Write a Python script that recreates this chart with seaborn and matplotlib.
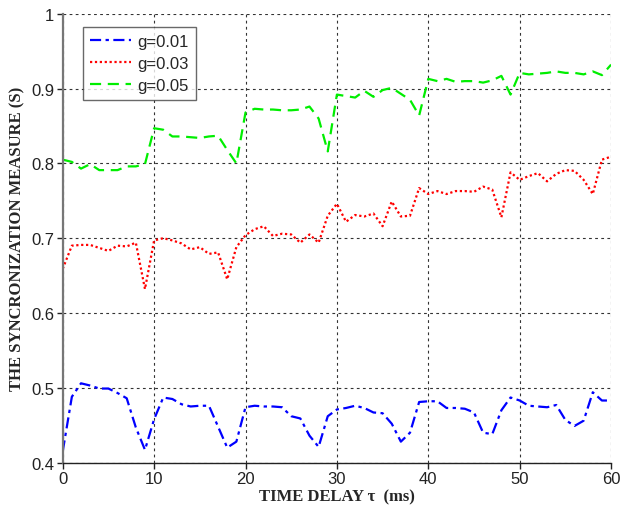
import numpy as np
import pandas as pd
import matplotlib
matplotlib.use("Agg")
import matplotlib.pyplot as plt
import seaborn as sns

# time delay (ms)
tau = list(range(0, 61))

# synchronization measure for each coupling strength
g001 = [0.415, 0.488, 0.506, 0.503, 0.499, 0.499, 0.493, 0.486, 0.447, 0.417,
        0.458, 0.487, 0.485, 0.478, 0.475, 0.476, 0.476, 0.448, 0.420, 0.428,
        0.474, 0.476, 0.475, 0.475, 0.474, 0.462, 0.459, 0.436, 0.421, 0.462,
        0.471, 0.473, 0.476, 0.473, 0.467, 0.466, 0.452, 0.428, 0.440, 0.481,
        0.482, 0.482, 0.473, 0.473, 0.472, 0.467, 0.440, 0.438, 0.470, 0.487,
        0.483, 0.476, 0.475, 0.474, 0.477, 0.457, 0.449, 0.456, 0.494, 0.483,
        0.483]
g003 = [0.659, 0.690, 0.691, 0.691, 0.687, 0.683, 0.690, 0.689, 0.694, 0.632,
        0.697, 0.700, 0.697, 0.693, 0.685, 0.688, 0.679, 0.681, 0.645, 0.688,
        0.704, 0.712, 0.716, 0.703, 0.706, 0.705, 0.694, 0.705, 0.694, 0.730,
        0.746, 0.722, 0.731, 0.729, 0.733, 0.716, 0.749, 0.729, 0.730, 0.767,
        0.759, 0.763, 0.759, 0.763, 0.763, 0.762, 0.769, 0.765, 0.728, 0.788,
        0.778, 0.783, 0.787, 0.776, 0.786, 0.791, 0.790, 0.778, 0.759, 0.805,
        0.809]
g005 = [0.805, 0.802, 0.793, 0.799, 0.791, 0.791, 0.791, 0.796, 0.796, 0.799,
        0.847, 0.845, 0.836, 0.836, 0.835, 0.834, 0.836, 0.837, 0.818, 0.800,
        0.868, 0.873, 0.872, 0.872, 0.871, 0.871, 0.872, 0.876, 0.860, 0.816,
        0.892, 0.890, 0.888, 0.897, 0.889, 0.898, 0.901, 0.893, 0.885, 0.864,
        0.913, 0.910, 0.913, 0.909, 0.910, 0.910, 0.908, 0.911, 0.917, 0.892,
        0.921, 0.919, 0.920, 0.921, 0.923, 0.921, 0.921, 0.919, 0.923, 0.918,
        0.932]

labels = ["g=0.01", "g=0.03", "g=0.05"]
xticks = [0, 10, 20, 30, 40, 50, 60]
yticks = [0.4, 0.5, 0.6, 0.7, 0.8, 0.9, 1.0]
ytick_labels = ["0.4", "0.5", "0.6", "0.7", "0.8", "0.9", "1"]

sns.set_theme(style="white")
plt.rcParams['font.family'] = ['Liberation Sans', 'DejaVu Sans']

fig = plt.figure(figsize=(6.21, 5.10), dpi=100)
ax = fig.add_axes([0.101, 0.091, 0.883, 0.88])

styles = [("#0000ff", (0, (5, 2, 1.5, 2))),
          ("#ff0000", (0, (1, 1.2))),
          ("#00ee00", (0, (5, 3)))]
for vals, lab, (col, ls) in zip([g001, g003, g005], labels, styles):
    sns.lineplot(x=tau, y=vals, ax=ax, color=col, linestyle=ls, linewidth=1.6, label=lab)

ax.set_xlim(0, 60)
ax.set_ylim(0.4, 1.0)
ax.set_xticks(xticks)
ax.set_yticks(yticks)
ax.set_yticklabels(ytick_labels)
ax.tick_params(labelsize=12, direction="out", length=4, width=1, pad=2,
               colors="#222222", left=True, bottom=True)

ax.grid(True, color="#333333", linestyle=(0, (2.5, 3)), linewidth=0.8)
for s in ["top", "right"]:
    ax.spines[s].set_visible(False)
ax.spines["left"].set_color("#777777")
ax.spines["left"].set_linewidth(1.6)
ax.spines["bottom"].set_color("#222222")
ax.spines["bottom"].set_linewidth(1.0)

ax.set_xlabel("TIME DELAY τ  (ms)", family=["Liberation Serif", "DejaVu Serif"],
              fontweight="bold", fontsize=12, labelpad=2)
ax.set_ylabel("THE SYNCRONIZATION MEASURE (S)", family=["Liberation Serif", "DejaVu Serif"],
              fontweight="bold", fontsize=12, labelpad=4)

leg = ax.legend(loc="upper left", bbox_to_anchor=(0.0365, 0.971), borderaxespad=0,
                fontsize=12, frameon=True, fancybox=False, edgecolor="#444444",
                handlelength=2.45, handletextpad=0.35, borderpad=0.45, labelspacing=0.4)
leg.get_frame().set_linewidth(1.0)

fig.savefig("out.png", dpi=100)
